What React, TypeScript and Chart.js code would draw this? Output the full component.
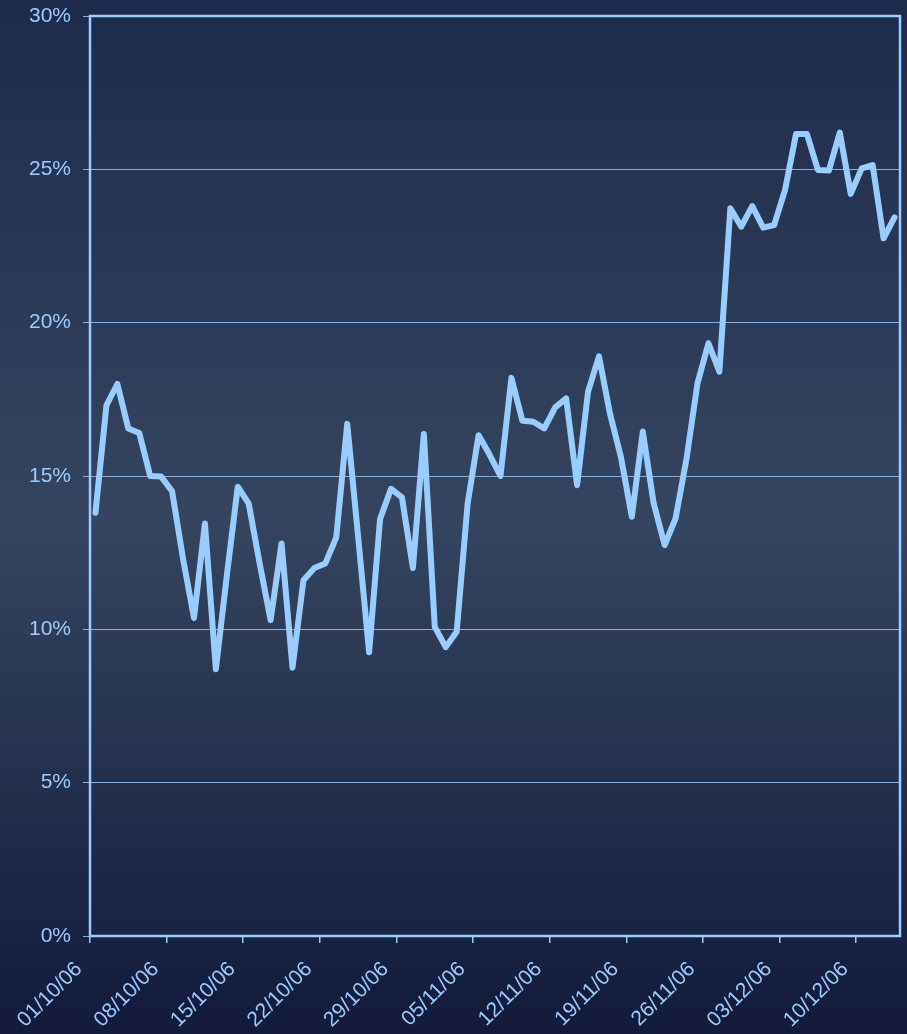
import React, { useEffect, useRef } from "react";
import { Chart, registerables } from "chart.js";

Chart.register(...registerables);

// Daily values from 01/10/06 (day 0) to 13/12/06 (day 73), in %
const values: number[] = [
  13.8, 17.3, 18.0, 16.55, 16.4, 15.0, 14.98, 14.5, 12.3, 10.37,
  13.45, 8.7, 11.75, 14.65, 14.1, 12.15, 10.3, 12.8, 8.75, 11.6,
  12.0, 12.15, 13.0, 16.7, 13.0, 9.25, 13.6, 14.58, 14.3, 12.0,
  16.37, 10.08, 9.42, 9.92, 14.1, 16.33, 15.7, 15.0, 18.2, 16.8,
  16.77, 16.55, 17.24, 17.53, 14.7, 17.75, 18.9, 17.04, 15.63, 13.67,
  16.45, 14.1, 12.75, 13.62, 15.57, 18.02, 19.33, 18.4, 23.73, 23.13,
  23.8, 23.1, 23.18, 24.33, 26.15, 26.15, 24.98, 24.96, 26.2, 24.2,
  25.03, 25.14, 22.75, 23.43,
];

// Weekly tick labels (every 7 days from 01/10/06)
const tickLabels: string[] = [
  "01/10/06", "08/10/06", "15/10/06", "22/10/06", "29/10/06", "05/11/06",
  "12/11/06", "19/11/06", "26/11/06", "03/12/06", "10/12/06",
];

const totalDays = 74;
const yMax = 30;
const yStep = 5;

const LIGHT = "#99ccff";
const FONT = "'Liberation Sans', Arial, sans-serif";

const bgPlugin = {
  id: "bgGradient",
  beforeDraw(chart: any) {
    const { ctx, width, height } = chart;
    const g = ctx.createLinearGradient(0, 0, 0, height);
    g.addColorStop(0, "#1e2a4a");
    g.addColorStop(0.5, "#35455f");
    g.addColorStop(1, "#131a3a");
    ctx.save();
    ctx.fillStyle = g;
    ctx.fillRect(0, 0, width, height);
    ctx.restore();
  },
};

const borderPlugin = {
  id: "plotBorder",
  afterDatasetsDraw(chart: any) {
    const { ctx, chartArea } = chart;
    ctx.save();
    ctx.strokeStyle = LIGHT;
    ctx.lineWidth = 2.5;
    ctx.strokeRect(chartArea.left, chartArea.top, chartArea.right - chartArea.left, chartArea.bottom - chartArea.top);
    ctx.restore();
  },
};

export default function App() {
  const ref = useRef<HTMLCanvasElement | null>(null);

  useEffect(() => {
    document.body.style.margin = "0";
    const canvas = ref.current;
    if (!canvas) return;
    const data = values.map((v, i) => ({ x: i + 0.5, y: v }));
    const chart = new Chart(canvas, {
      type: "line",
      data: {
        datasets: [
          {
            data,
            borderColor: LIGHT,
            borderWidth: 6,
            pointRadius: 0,
            tension: 0,
            fill: false,
            borderJoinStyle: "round",
            borderCapStyle: "round",
          } as any,
        ],
      },
      options: {
        animation: false,
        responsive: false,
        devicePixelRatio: 1,
        layout: { padding: { top: 16, right: 7, left: 0, bottom: 0 } },
        plugins: { legend: { display: false }, tooltip: { enabled: false } },
        scales: {
          x: {
            type: "linear",
            min: 0,
            max: totalDays,
            afterFit(scale: any) {
              scale.height = 98;
              scale.paddingLeft = 0;
              scale.paddingRight = 0;
            },
            afterBuildTicks(scale: any) {
              scale.ticks = tickLabels.map((_, i) => ({ value: i * 7 }));
            },
            ticks: {
              color: LIGHT,
              font: { family: FONT, size: 21 },
              maxRotation: 45,
              minRotation: 45,
              autoSkip: false,
              padding: 14,
              labelOffset: -11,
              callback: (v: any) => tickLabels[Math.round(Number(v) / 7)] ?? "",
            },
            grid: {
              drawOnChartArea: false,
              drawTicks: true,
              tickLength: 7,
              color: LIGHT,
              lineWidth: 1.5,
            },
            border: { display: false },
          },
          y: {
            min: 0,
            max: yMax,
            afterFit(scale: any) {
              scale.width = 90;
              scale.paddingTop = 0;
              scale.paddingBottom = 0;
            },
            ticks: {
              stepSize: yStep,
              color: LIGHT,
              font: { family: FONT, size: 21 },
              padding: 12,
              callback: (v: any) => `${v}%`,
            },
            grid: {
              color: "#86aedd",
              lineWidth: 1,
              tickLength: 7,
            },
            border: { display: false },
          },
        },
      },
      plugins: [bgPlugin, borderPlugin],
    } as any);
    return () => chart.destroy();
  }, []);

  return (
    <div style={{ width: 907, height: 1034 }}>
      <canvas ref={ref} width={907} height={1034} style={{ display: "block", width: 907, height: 1034 }} />
    </div>
  );
}
